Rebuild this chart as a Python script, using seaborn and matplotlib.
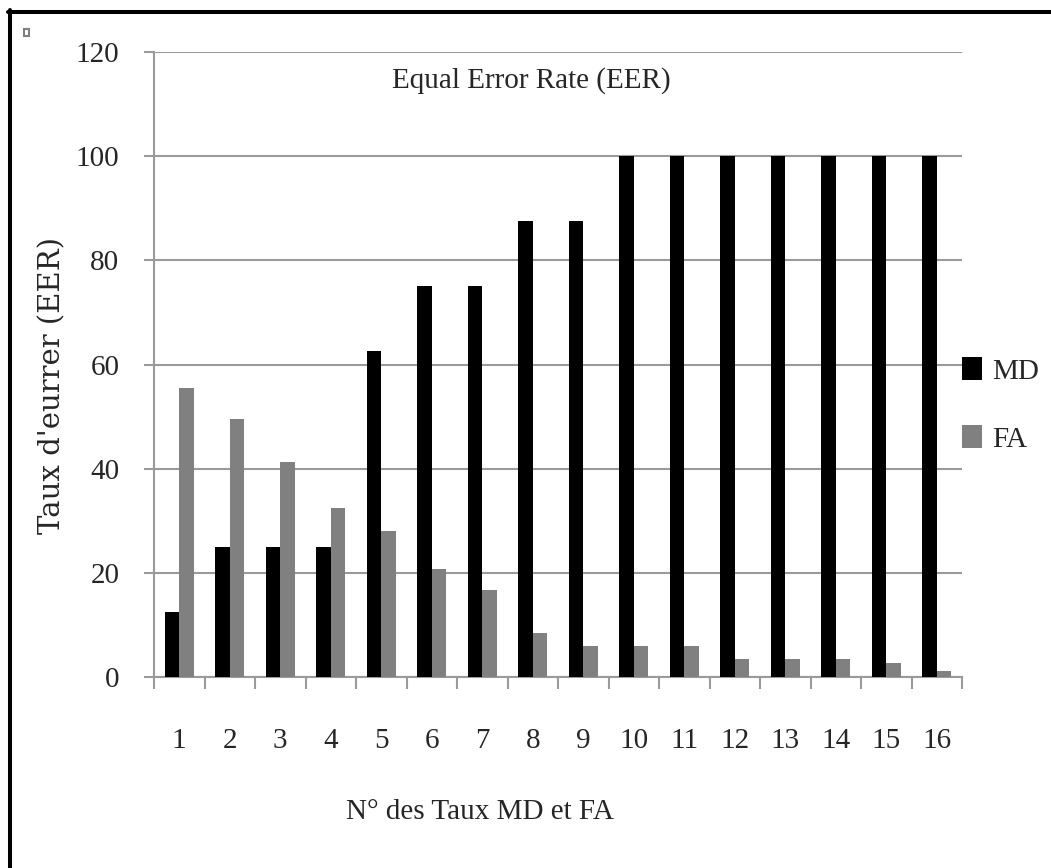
import matplotlib
matplotlib.use("Agg")
import matplotlib.pyplot as plt
import seaborn as sns
import pandas as pd
import numpy as np
from matplotlib.patches import Rectangle
from matplotlib.lines import Line2D

categories = [str(i) for i in range(1, 17)]
md_values = [12.5, 25, 25, 25, 62.5, 75, 75, 87.5, 87.5, 100, 100, 100, 100, 100, 100, 100]
fa_values = [55.4, 49.5, 41.2, 32.4, 28.0, 20.7, 16.8, 8.4, 6.0, 6.0, 6.0, 3.5, 3.5, 3.5, 2.6, 1.1]
series_names = ["MD", "FA"]
y_ticks = [0, 20, 40, 60, 80, 100, 120]

df = pd.DataFrame({
    "cat": categories * 2,
    "val": md_values + fa_values,
    "serie": [series_names[0]] * 16 + [series_names[1]] * 16,
})

sns.set_theme(style="white")
plt.rcParams["font.family"] = ["Liberation Serif", "DejaVu Serif"]

W, H = 1051, 868
FS = 21
fig = plt.figure(figsize=(W / 100, H / 100), dpi=100)
ax = fig.add_axes([154 / W, (H - 677) / H, (962 - 154) / W, (677 - 52) / H])

grid_c = "#9a9a9a"
sns.barplot(data=df, x="cat", y="val", hue="serie", order=categories,
            hue_order=series_names, palette=["#000000", "#808080"],
            width=0.58, saturation=1, ax=ax, legend=True, zorder=3,
            linewidth=0, edgecolor="none")

ax.set_ylim(0, 120)
ax.set_xlim(-0.5, 15.5)
ax.set_yticks(y_ticks)
ax.set_yticklabels([str(t) for t in y_ticks], fontsize=FS)
ax.yaxis.grid(True, color=grid_c, linewidth=1.5, zorder=0)
ax.set_axisbelow(True)

for s in ["top", "right"]:
    ax.spines[s].set_visible(False)
for s in ["left", "bottom"]:
    ax.spines[s].set_color(grid_c)
    ax.spines[s].set_linewidth(1.5)

ax.tick_params(axis="y", which="major", length=7, width=1.5, color=grid_c,
               direction="out", left=True, pad=18)
ax.set_xticks(range(16))
ax.set_xticklabels(categories, fontsize=FS)
ax.tick_params(axis="x", which="major", length=0, pad=37)
ax.set_xticks(np.arange(-0.5, 16, 1), minor=True)
ax.tick_params(axis="x", which="minor", length=8.6, width=1.5, color=grid_c,
               direction="out", bottom=True)

ax.set_xlabel("N° des Taux MD et FA", fontsize=FS)
ax.xaxis.set_label_coords((480 - 154) / 808, (677 - 799) / 625)
ax.set_ylabel("Taux d'eurrer (EER)", fontsize=21, family=["DejaVu Serif"])
ax.yaxis.set_label_coords((66 - 154) / 808, (677 - 385) / 625)

ax.text((531 - 154) / 808, (677 - 81) / 625, "Equal Error Rate (EER)",
        transform=ax.transAxes, ha="center", va="center", fontsize=FS)

leg = ax.legend(loc="center left", bbox_to_anchor=(1.0, (677 - 405) / 625),
                frameon=False, fontsize=FS, labelspacing=1.4,
                handlelength=0.7, handleheight=0.83, handletextpad=0.35,
                borderaxespad=0.0, borderpad=0.0)

# frame on top and left
fig.add_artist(Line2D([10 / W, 10 / W], [0, (H - 10) / H], color="black",
                      linewidth=2.9, transform=fig.transFigure))
fig.add_artist(Line2D([8 / W, 1], [(H - 12) / H, (H - 12) / H], color="black",
                      linewidth=2.9, transform=fig.transFigure))
fig.add_artist(Rectangle((24 / W, (H - 36) / H), 5 / W, 7 / H, fill=False,
                         edgecolor="#808080", linewidth=1.5,
                         transform=fig.transFigure))

fig.savefig("out.png", dpi=100, facecolor="white")
